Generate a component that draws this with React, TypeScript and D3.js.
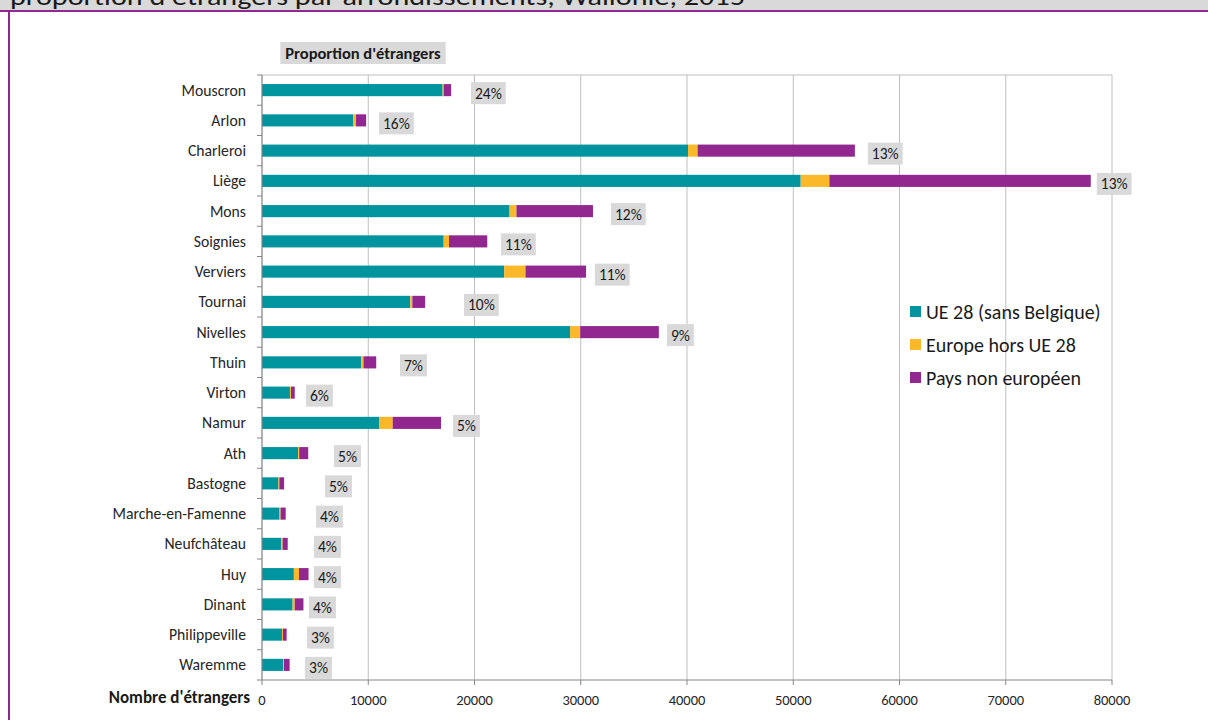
import React, { useRef, useEffect } from "react";
import * as d3 from "d3";

const categories = [
  "Mouscron", "Arlon", "Charleroi", "Liège", "Mons", "Soignies", "Verviers",
  "Tournai", "Nivelles", "Thuin", "Virton", "Namur", "Ath", "Bastogne",
  "Marche-en-Famenne", "Neufchâteau", "Huy", "Dinant", "Philippeville", "Waremme",
];
const ue28 = [17000, 8600, 40100, 50700, 23300, 17100, 22800, 13950, 29000, 9350, 2630, 11050, 3400, 1550, 1650, 1820, 3000, 2880, 1880, 2000];
const europeHorsUe = [100, 250, 900, 2700, 650, 500, 2000, 200, 950, 200, 100, 1250, 100, 80, 100, 120, 480, 200, 90, 70];
const nonEuropeen = [700, 950, 14800, 24600, 7200, 3600, 5700, 1200, 7400, 1200, 350, 4550, 850, 450, 480, 480, 900, 820, 350, 530];
// hidden spacer series : where the proportion label starts
const labelOffset = [19670, 11010, 57020, 78570, 32840, 22490, 31330, 19010, 38110, 12990, 4140, 17970, 6780, 5930, 5080, 4890, 4890, 4420, 4230, 4050];
const proportion = ["24%", "16%", "13%", "13%", "12%", "11%", "11%", "10%", "9%", "7%", "6%", "5%", "5%", "5%", "4%", "4%", "4%", "4%", "3%", "3%"];
const seriesNames = ["UE 28 (sans Belgique)", "Europe hors UE 28", "Pays non européen"];
const xTicks = [0, 10000, 20000, 30000, 40000, 50000, 60000, 70000, 80000];

const colors = ["#00949f", "#fbb829", "#92278f"];
const font = "Carlito, Calibri, Lato, sans-serif";

function App() {
  const svgRef = useRef(null);

  useEffect(() => {
    const svg = d3.select(svgRef.current);
    svg.selectAll("*").remove();

    const x = d3.scaleLinear().domain([0, 80000]).range([262, 1112]);
    const y = d3.scaleBand().domain(categories).range([75, 680]).paddingInner(0.6).paddingOuter(0.3);
    const top = 75, bottom = 680;

    // title band (cut off at top)
    svg.append("rect").attr("x", 0).attr("y", 0).attr("width", 1208).attr("height", 11).attr("fill", "#d9d9d9");
    svg.append("text").attr("x", 10).attr("y", 5)
      .attr("font-family", font).attr("font-size", 24).attr("fill", "#1a1a1a")
      .attr("textLength", 735).attr("lengthAdjust", "spacingAndGlyphs")
      .text("proportion d'étrangers par arrondissements, Wallonie, 2015");
    svg.append("rect").attr("x", 0).attr("y", 10).attr("width", 1208).attr("height", 2).attr("fill", "#92278f");
    svg.append("rect").attr("x", 8).attr("y", 10).attr("width", 2).attr("height", 710).attr("fill", "#92278f");

    // grid
    svg.append("g").selectAll("line").data(xTicks).join("line")
      .attr("x1", d => x(d)).attr("x2", d => x(d)).attr("y1", top).attr("y2", bottom)
      .attr("stroke", "#bfbfbf").attr("stroke-width", 1);
    svg.append("line").attr("x1", x(0)).attr("x2", x(80000)).attr("y1", top).attr("y2", top)
      .attr("stroke", "#bfbfbf");

    // stacked bars
    const rows = categories.map((c, i) => ({ c, ue: ue28[i], eu: europeHorsUe[i], ne: nonEuropeen[i] }));
    const stacked = d3.stack().keys(["ue", "eu", "ne"])(rows);
    svg.append("g").selectAll("g").data(stacked).join("g")
      .attr("fill", (d, i) => colors[i])
      .selectAll("rect").data(d => d).join("rect")
      .attr("x", d => x(d[0])).attr("width", d => x(d[1]) - x(d[0]))
      .attr("y", d => y(d.data.c)).attr("height", y.bandwidth());

    // axes
    svg.append("line").attr("x1", x(0)).attr("x2", x(0)).attr("y1", top).attr("y2", bottom).attr("stroke", "#868686");
    svg.append("line").attr("x1", x(0)).attr("x2", x(80000)).attr("y1", bottom).attr("y2", bottom).attr("stroke", "#868686");
    const step = y.step();
    svg.append("g").selectAll("line").data(d3.range(categories.length + 1)).join("line")
      .attr("x1", x(0) - 5).attr("x2", x(0)).attr("y1", i => top + i * step).attr("y2", i => top + i * step)
      .attr("stroke", "#868686");
    svg.append("g").selectAll("line").data(xTicks).join("line")
      .attr("x1", d => x(d)).attr("x2", d => x(d)).attr("y1", bottom).attr("y2", bottom + 5)
      .attr("stroke", "#868686");
    svg.append("g").selectAll("text").data(xTicks).join("text")
      .attr("x", d => x(d)).attr("y", 705).attr("text-anchor", "middle")
      .attr("font-family", font).attr("font-size", 14.5).attr("fill", "#262626")
      .text(d => String(d));
    svg.append("g").selectAll("text").data(categories).join("text")
      .attr("x", 246).attr("y", d => y(d) + y.bandwidth() / 2).attr("dy", "0.35em")
      .attr("text-anchor", "end").attr("font-family", font).attr("font-size", 15.7).attr("fill", "#262626")
      .text(d => d);
    svg.append("text").attr("x", 250).attr("y", 703).attr("text-anchor", "end")
      .attr("font-family", font).attr("font-size", 17).attr("font-weight", "bold").attr("fill", "#1a1a1a")
      .text("Nombre d'étrangers");

    // proportion labels
    const lab = svg.append("g").selectAll("g").data(categories).join("g");
    lab.each(function (c, i) {
      const g = d3.select(this);
      const cy = y(c) + y.bandwidth() / 2 + 3;
      const rect = g.append("rect").attr("fill", "#d9d9d9");
      const t = g.append("text").attr("font-family", font).attr("font-size", 15.5).attr("fill", "#1a1a1a")
        .attr("dy", "0.35em").attr("y", cy).text(proportion[i]);
      const w = (t.node() as SVGTextElement).getComputedTextLength() + 8;
      const x0 = x(labelOffset[i]);
      rect.attr("x", x0).attr("y", cy - 11).attr("width", w).attr("height", 22);
      t.attr("x", x0 + w / 2).attr("text-anchor", "middle");
    });

    // chart title
    const tg = svg.append("g");
    const tr = tg.append("rect").attr("fill", "#d9d9d9");
    const tt = tg.append("text").attr("x", 363).attr("y", 53).attr("dy", "0.35em").attr("text-anchor", "middle")
      .attr("font-family", font).attr("font-size", 16.5).attr("font-weight", "bold").attr("fill", "#1a1a1a")
      .text("Proportion d'étrangers");
    const tw = (tt.node() as SVGTextElement).getComputedTextLength() + 10;
    tr.attr("x", 363 - tw / 2).attr("y", 42).attr("width", tw).attr("height", 22);

    // legend
    const lg = svg.append("g").selectAll("g").data(seriesNames).join("g")
      .attr("transform", (d, i) => `translate(910,${312 + i * 33})`);
    lg.append("rect").attr("x", 0).attr("y", -6).attr("width", 11).attr("height", 11).attr("fill", (d, i) => colors[i]);
    lg.append("text").attr("x", 16).attr("dy", "0.35em").attr("font-family", font).attr("font-size", 20)
      .attr("fill", "#1a1a1a").text(d => d);
  }, []);

  return (
    <svg ref={svgRef} width={1208} height={720}
      style={{ position: "absolute", left: 0, top: 0, background: "#fff" }} />
  );
}

export default App;
